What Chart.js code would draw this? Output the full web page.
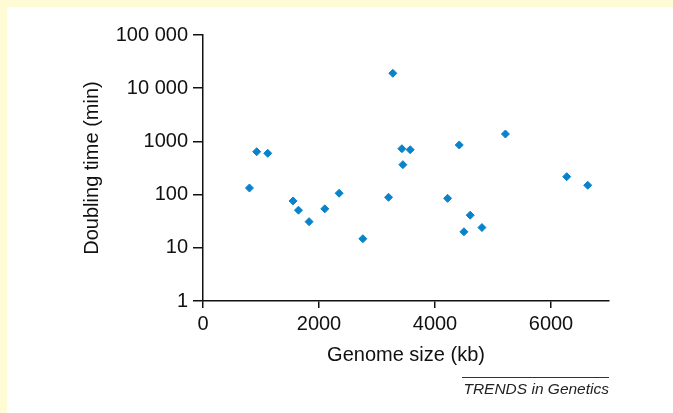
<!DOCTYPE html>
<html lang="en">

<head>
    <meta charset="UTF-8">
    <title>Doubling time vs genome size</title>
    <script src="https://cdn.jsdelivr.net/npm/chart.js"></script>
    <style>
        html, body { margin: 0; padding: 0; }
        body { width: 673px; height: 413px; background: #FFFBD5; position: relative; overflow: hidden; }
        .painel { position: absolute; left: 7px; top: 7px; width: 666px; height: 406px; background: #fff; }
        #grafico { position: absolute; left: 0; top: 0; }
        .fonte {
            position: absolute; right: 64px; top: 377px; width: 147px;
            border-top: 1px solid #333; padding-top: 3px;
            font: italic 15.5px/16px "Liberation Sans", Arial, sans-serif; color: #222;
            text-align: right; white-space: nowrap;
        }
    </style>
</head>

<body>
    <div class="painel">
        <canvas id="grafico" width="666" height="406"></canvas>
    </div>
    <div class="fonte">TRENDS in Genetics</div>

    <script>
        // genome size (kb) and doubling time (min)
        const genomeSize = [801, 926, 1116, 1553, 1646, 1829, 2100, 2347, 2756, 3199, 3273, 3429, 3446, 3572,
            4217, 4418, 4499, 4607, 4809, 5214, 6271, 6633];
        const doublingTime = [133, 640, 597, 76, 51, 31, 54, 106, 14.8, 89, 19050, 729, 365, 698,
            85, 856, 20, 41, 24, 1377, 217, 150];

        const xTicks = [0, 2000, 4000, 6000];
        const xTickLabels = ['0', '2000', '4000', '6000'];
        const yTicks = [1, 10, 100, 1000, 10000, 100000];
        const yTickLabels = ['1', '10', '100', '1000', '10 000', '100 000'];

        const pontos = genomeSize.map((g, i) => ({ x: g, y: doublingTime[i] }));

        const fonte = { family: '"Liberation Sans", Arial, sans-serif', size: 20 };

        new Chart(document.getElementById('grafico'), {
            type: 'scatter',
            data: {
                datasets: [{
                    data: pontos,
                    pointStyle: 'rectRot',
                    pointRadius: 4,
                    backgroundColor: '#0883CB',
                    borderColor: '#0883CB',
                    borderWidth: 1
                }]
            },
            options: {
                responsive: false,
                animation: false,
                layout: { padding: { left: 69, right: 64, top: 28, bottom: 42 } },
                plugins: { legend: { display: false }, tooltip: { enabled: false } },
                scales: {
                    x: {
                        type: 'linear',
                        min: 0,
                        max: 7000,
                        afterFit: s => { s.height = 70; },
                        afterBuildTicks: s => { s.ticks = xTicks.map(v => ({ value: v })); },
                        grid: { drawOnChartArea: false, tickLength: 7, color: '#111', lineWidth: 1.5 },
                        border: { color: '#111', width: 1.5 },
                        ticks: {
                            color: '#111', font: fonte, padding: 4, maxRotation: 0,
                            callback: (v) => xTickLabels[xTicks.indexOf(v)] ?? ''
                        },
                        title: { display: true, text: 'Genome size (kb)', color: '#111', font: fonte, padding: { top: 4, bottom: 4 } }
                    },
                    y: {
                        type: 'logarithmic',
                        min: 1,
                        max: 100000,
                        afterFit: s => { s.width = 127; },
                        afterBuildTicks: s => { s.ticks = yTicks.map(v => ({ value: v })); },
                        grid: { drawOnChartArea: false, tickLength: 10, color: '#111', lineWidth: 1.5 },
                        border: { color: '#111', width: 1.5 },
                        ticks: {
                            color: '#111', font: fonte, padding: 5,
                            callback: (v) => yTickLabels[yTicks.indexOf(v)] ?? ''
                        },
                        title: { display: true, text: 'Doubling time (min)', color: '#111', font: fonte, padding: { top: 4, bottom: 4 } }
                    }
                }
            }
        });
    </script>
</body>

</html>
